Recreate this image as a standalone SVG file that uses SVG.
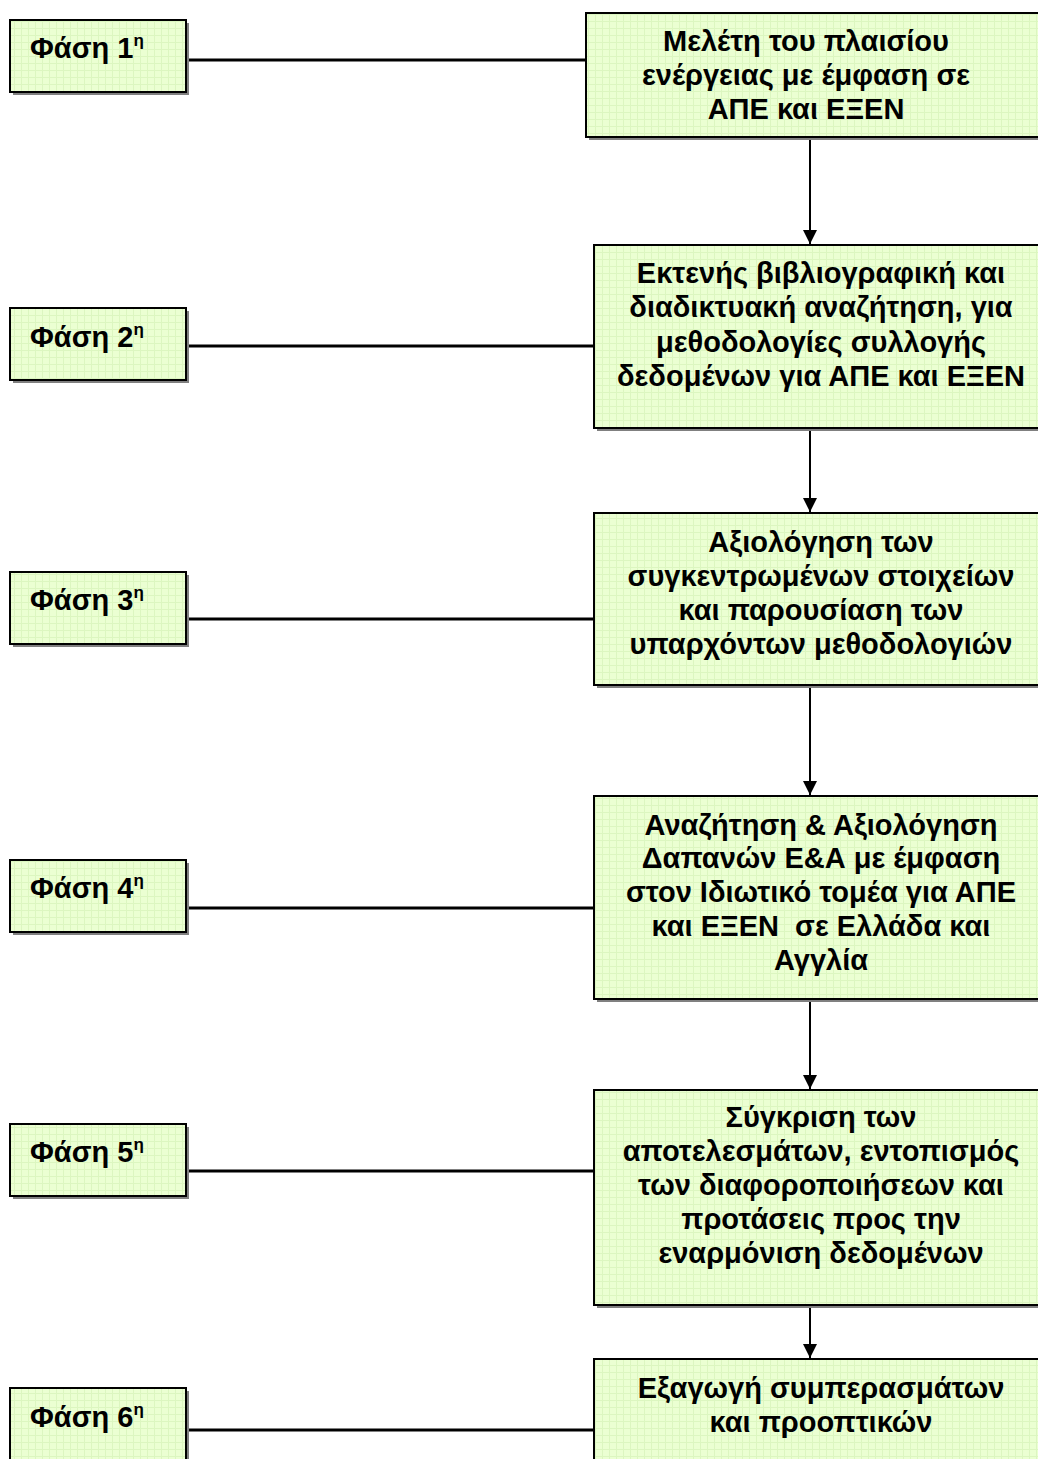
<svg xmlns="http://www.w3.org/2000/svg" width="1038" height="1459" viewBox="0 0 1038 1459">
<style>
.box{fill:url(#grid);stroke:#000;stroke-width:2}
.sh{fill:#808080}
.t{font-family:"Liberation Sans",Arial,sans-serif;font-weight:bold;font-size:29px;fill:#000}
.c{text-anchor:middle}
.sup{font-size:17px}
.ln{stroke:#000;stroke-width:3;fill:none}
.ar{stroke:#000;stroke-width:2;fill:none}
</style>
<defs>
<pattern id="grid" width="7" height="7" patternUnits="userSpaceOnUse">
<rect width="7" height="7" fill="#ebffd2"/>
<path d="M0 0.5H7M0.5 0V7" stroke="#dcf6c0" stroke-width="1"/>
</pattern>
<marker id="ah" markerWidth="16" markerHeight="16" refX="15" refY="8" orient="auto" markerUnits="userSpaceOnUse" viewBox="0 0 16 16">
<path d="M1 1L15 8L1 15Z" fill="#000"/>
</marker>
</defs>
<rect width="1038" height="1459" fill="#fff"/>
<g id="connectors">
<line class="ln" x1="186" y1="60" x2="586" y2="60"/>
<line class="ln" x1="186" y1="346" x2="594" y2="346"/>
<line class="ln" x1="186" y1="619" x2="594" y2="619"/>
<line class="ln" x1="186" y1="908" x2="594" y2="908"/>
<line class="ln" x1="186" y1="1171" x2="594" y2="1171"/>
<line class="ln" x1="186" y1="1430" x2="594" y2="1430"/>
<line class="ar" x1="810" y1="137" x2="810" y2="244" marker-end="url(#ah)"/>
<line class="ar" x1="810" y1="428" x2="810" y2="512" marker-end="url(#ah)"/>
<line class="ar" x1="810" y1="685" x2="810" y2="795" marker-end="url(#ah)"/>
<line class="ar" x1="810" y1="999" x2="810" y2="1089" marker-end="url(#ah)"/>
<line class="ar" x1="810" y1="1305" x2="810" y2="1358" marker-end="url(#ah)"/>
</g>
<g id="phase1"><rect class="sh" x="13" y="23" width="176" height="72"/><rect class="box" x="10" y="20" width="176" height="72"/><text class="t" x="30" y="58">Φάση 1<tspan class="sup" dy="-12">η</tspan></text></g>
<g id="phase2"><rect class="sh" x="13" y="311" width="176" height="72"/><rect class="box" x="10" y="308" width="176" height="72"/><text class="t" x="30" y="347">Φάση 2<tspan class="sup" dy="-12">η</tspan></text></g>
<g id="phase3"><rect class="sh" x="13" y="575" width="176" height="72"/><rect class="box" x="10" y="572" width="176" height="72"/><text class="t" x="30" y="610">Φάση 3<tspan class="sup" dy="-12">η</tspan></text></g>
<g id="phase4"><rect class="sh" x="13" y="863" width="176" height="72"/><rect class="box" x="10" y="860" width="176" height="72"/><text class="t" x="30" y="898">Φάση 4<tspan class="sup" dy="-12">η</tspan></text></g>
<g id="phase5"><rect class="sh" x="13" y="1127" width="176" height="72"/><rect class="box" x="10" y="1124" width="176" height="72"/><text class="t" x="30" y="1162">Φάση 5<tspan class="sup" dy="-12">η</tspan></text></g>
<g id="phase6"><rect class="sh" x="13" y="1391" width="176" height="72"/><rect class="box" x="10" y="1388" width="176" height="80"/><text class="t" x="30" y="1427">Φάση 6<tspan class="sup" dy="-12">η</tspan></text></g>
<g id="step1"><rect class="sh" x="589" y="16" width="460" height="124"/><rect class="box" x="586" y="13" width="460" height="124"/>
<text class="t c" x="806" y="51">Μελέτη του πλαισίου</text><text class="t c" x="806" y="85">ενέργειας με έμφαση σε</text><text class="t c" x="806" y="119">ΑΠΕ και ΕΞΕΝ</text></g>
<g id="step2"><rect class="sh" x="597" y="248" width="460" height="183"/><rect class="box" x="594" y="245" width="460" height="183"/>
<text class="t c" x="821" y="283">Εκτενής βιβλιογραφική και</text><text class="t c" x="821" y="317">διαδικτυακή αναζήτηση, για</text><text class="t c" x="821" y="352">μεθοδολογίες συλλογής</text><text class="t c" x="821" y="386">δεδομένων για ΑΠΕ και ΕΞΕΝ</text></g>
<g id="step3"><rect class="sh" x="597" y="516" width="460" height="172"/><rect class="box" x="594" y="513" width="460" height="172"/>
<text class="t c" x="821" y="552">Αξιολόγηση των</text><text class="t c" x="821" y="586">συγκεντρωμένων στοιχείων</text><text class="t c" x="821" y="620">και παρουσίαση των</text><text class="t c" x="821" y="654">υπαρχόντων μεθοδολογιών</text></g>
<g id="step4"><rect class="sh" x="597" y="799" width="460" height="203"/><rect class="box" x="594" y="796" width="460" height="203"/>
<text class="t c" x="821" y="835">Αναζήτηση &amp; Αξιολόγηση</text><text class="t c" x="821" y="868">Δαπανών Ε&amp;Α με έμφαση</text><text class="t c" x="821" y="902">στον Ιδιωτικό τομέα για ΑΠΕ</text><text class="t c" x="821" y="936" xml:space="preserve">και ΕΞΕΝ  σε Ελλάδα και</text><text class="t c" x="821" y="970">Αγγλία</text></g>
<g id="step5"><rect class="sh" x="597" y="1093" width="460" height="215"/><rect class="box" x="594" y="1090" width="460" height="215"/>
<text class="t c" x="821" y="1127">Σύγκριση των</text><text class="t c" x="821" y="1161">αποτελεσμάτων, εντοπισμός</text><text class="t c" x="821" y="1195">των διαφοροποιήσεων και</text><text class="t c" x="821" y="1229">προτάσεις προς την</text><text class="t c" x="821" y="1263">εναρμόνιση δεδομένων</text></g>
<g id="step6"><rect class="sh" x="597" y="1362" width="460" height="120"/><rect class="box" x="594" y="1359" width="460" height="120"/>
<text class="t c" x="821" y="1398">Εξαγωγή συμπερασμάτων</text><text class="t c" x="821" y="1432">και προοπτικών</text></g>
</svg>
